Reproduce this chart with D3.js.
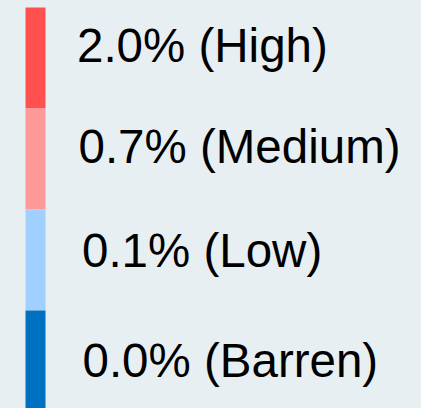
<!DOCTYPE html>
<html>
<head>
<meta charset="utf-8">
<script src="https://cdn.jsdelivr.net/npm/d3@7"></script>
<style>
html,body{margin:0;padding:0;background:#e8eff2;}
svg{display:block;}
</style>
</head>
<body>
<script>
// Data
const categories = ["High", "Medium", "Low", "Barren"];
const values = [2.0, 0.7, 0.1, 0.0];
const colors = ["#ff5050", "#ff9999", "#a0d0ff", "#0070c0"];

// Layout
const W = 421, H = 408;
const barX = 25.5, barW = 20;
const barTop = 7.5, segH = 101;
const textX = [77, 78.5, 82, 82.5];
const textDy = [4, 3.5, 6.5, 16];

const svg = d3.select("body").append("svg").attr("width", W).attr("height", H);
svg.append("rect").attr("width", W).attr("height", H).attr("fill", "#e8eff2");

const y = d3.scaleBand().domain(categories).range([barTop, barTop + segH * categories.length]).padding(0);
const fmt = d3.format(".1f");

svg.selectAll("rect.seg").data(categories).join("rect")
  .attr("class", "seg")
  .attr("x", barX).attr("width", barW)
  .attr("y", d => y(d)).attr("height", y.bandwidth())
  .attr("fill", (d, i) => colors[i]);

svg.selectAll("text.lbl").data(categories).join("text")
  .attr("class", "lbl")
  .attr("x", (d, i) => textX[i])
  .attr("y", (d, i) => y(d) + y.bandwidth() / 2 + textDy[i])
  .attr("font-family", "Liberation Sans, Arial, sans-serif")
  .attr("font-size", 47.5)
  .attr("fill", "#000")
  .text((d, i) => fmt(values[i]) + "% (" + d + ")");
</script>
</body>
</html>
